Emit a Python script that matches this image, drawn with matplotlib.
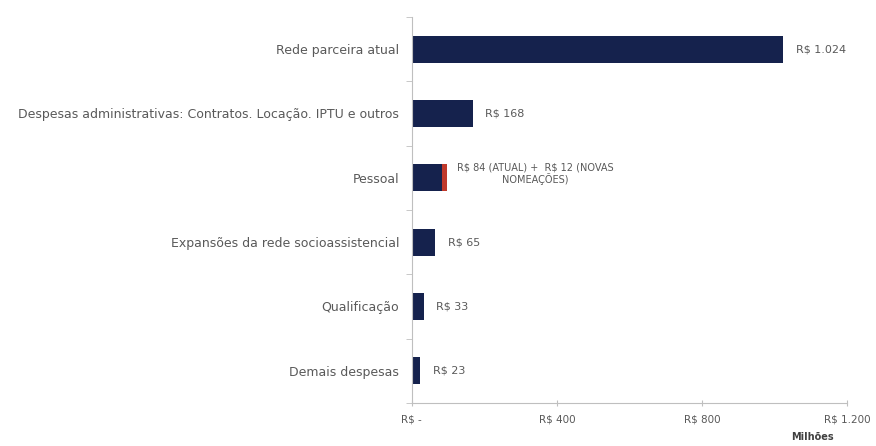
import matplotlib.pyplot as plt

plt.rcParams['text.parse_math'] = False

categorias = ["Rede parceira atual",
              "Despesas administrativas: Contratos. Locação. IPTU e outros",
              "Pessoal",
              "Expansões da rede socioassistencial",
              "Qualificação",
              "Demais despesas"]
valores = [1024, 168, 84, 65, 33, 23]
novas = [0, 0, 12, 0, 0, 0]
rotulos = ["R$ 1.024", "R$ 168", "R$ 84 (ATUAL) +  R$ 12 (NOVAS\nNOMEAÇÕES)",
           "R$ 65", "R$ 33", "R$ 23"]
xticks = [0, 400, 800, 1200]
xticklabels = ["R$ -", "R$ 400", "R$ 800", "R$ 1.200"]

navy = "#15224d"
red = "#c0392b"
txt = "#595959"
grid = "#bfbfbf"

fig = plt.figure(figsize=(8.76, 4.46), dpi=100)
ax = fig.add_axes([0.470, 0.0964, 0.497, 0.8656])

pos = list(range(len(categorias)))
ax.barh(pos, valores, height=0.42, color=navy)
ax.barh(pos, novas, left=valores, height=0.42, color=red)
ax.set_ylim(len(categorias) - 0.5, -0.5)
ax.set_xlim(0, 1200)

for i, (v, n, r) in enumerate(zip(valores, novas, rotulos)):
    end = v + n
    if n:
        ax.text(end + 28, i - 0.06, r, ha="left", va="center", fontsize=7,
                color=txt, multialignment="center", linespacing=1.1)
    else:
        ax.text(end + 35, i, r, ha="left", va="center", fontsize=8, color=txt)

ax.set_yticks(pos)
ax.set_yticklabels(categorias, fontsize=9, color=txt)
ax.set_yticks([p + 0.5 for p in range(-1, len(categorias))], minor=True)
ax.tick_params(axis="y", which="major", length=0, pad=9)
ax.tick_params(axis="y", which="minor", length=4, color=grid, direction="out")

ax.set_xticks(xticks)
ax.set_xticklabels(xticklabels, fontsize=7.5, color=txt)
ax.tick_params(axis="x", length=4, color=grid, direction="inout", pad=6)

for s in ["top", "right"]:
    ax.spines[s].set_visible(False)
for s in ["left", "bottom"]:
    ax.spines[s].set_color(grid)

fig.text(812 / 876, 1 - 437 / 446, "Milhões", ha="center", va="center",
         fontsize=7, fontweight="bold", color="#404040")

fig.savefig("out.png", dpi=100)
